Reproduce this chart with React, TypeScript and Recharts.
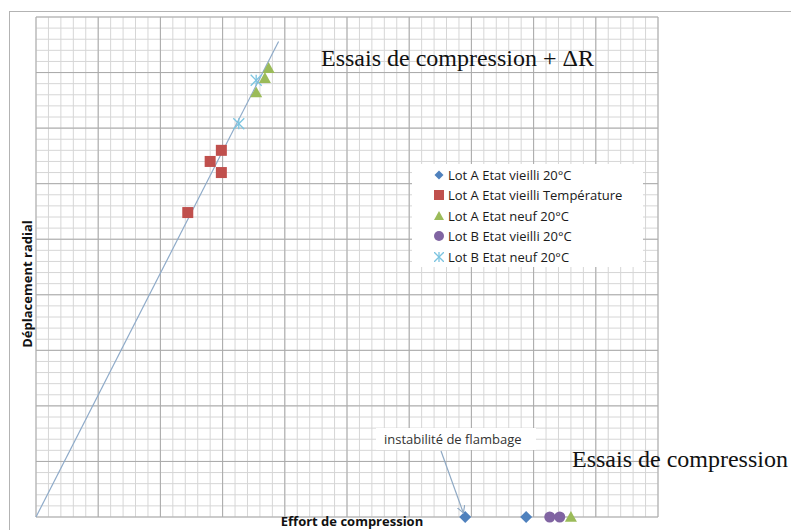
import React from "react"
import { ComposedChart, Scatter, XAxis, YAxis, ReferenceLine } from "recharts"

// grid units: x 0..50 (minor steps), y 0..45
const minorX = Array.from({ length: 51 }, (_, i) => i)
const minorY = Array.from({ length: 46 }, (_, i) => i)
const majorX = [0, 5, 10, 15, 20, 25, 30, 35, 40, 45, 50]
const majorY = [0, 5, 10, 15, 20, 25, 30, 35, 40, 45]

const lotAVieilli20 = [
  { x: 34.5, y: 0 },
  { x: 39.4, y: 0 },
]
const lotAVieilliTemp = [
  { x: 12.2, y: 27.4 },
  { x: 14.0, y: 32.0 },
  { x: 14.9, y: 33.0 },
  { x: 14.9, y: 31.0 },
]
const lotANeuf20 = [
  { x: 18.7, y: 40.4 },
  { x: 18.4, y: 39.5 },
  { x: 17.7, y: 38.2 },
  { x: 43.0, y: 0 },
]
const lotBVieilli20 = [
  { x: 41.3, y: 0 },
  { x: 42.1, y: 0 },
]
const lotBNeuf20 = [
  { x: 17.7, y: 39.3 },
  { x: 16.3, y: 35.4 },
]
const trend = [
  { x: 0, y: 0 },
  { x: 19.5, y: 42.8 },
]

const legendItems = [
  { name: "Lot A Etat vieilli 20°C", shape: "diamond", color: "#4f81bd" },
  { name: "Lot A Etat vieilli Température", shape: "square", color: "#c0504d" },
  { name: "Lot A Etat neuf 20°C", shape: "triangle", color: "#9bbb59" },
  { name: "Lot B Etat vieilli 20°C", shape: "circle", color: "#8064a2" },
  { name: "Lot B Etat neuf 20°C", shape: "star", color: "#7cc4e0" },
]

function Marker({ shape, color, cx, cy, s }: { shape: string; color: string; cx: number; cy: number; s: number }) {
  const h = s / 2
  if (shape === "diamond")
    return <polygon points={`${cx},${cy - h} ${cx + h},${cy} ${cx},${cy + h} ${cx - h},${cy}`} fill={color} />
  if (shape === "square") return <rect x={cx - h} y={cy - h} width={s} height={s} fill={color} />
  if (shape === "triangle")
    return <polygon points={`${cx},${cy - h} ${cx + h},${cy + h * 0.8} ${cx - h},${cy + h * 0.8}`} fill={color} />
  if (shape === "circle") return <circle cx={cx} cy={cy} r={h} fill={color} />
  return (
    <g stroke={color} strokeWidth={1.3}>
      <line x1={cx - h} y1={cy - h} x2={cx + h} y2={cy + h} />
      <line x1={cx - h} y1={cy + h} x2={cx + h} y2={cy - h} />
      <line x1={cx} y1={cy - h} x2={cx} y2={cy + h} />
    </g>
  )
}

const shapeFor = (shape: string, color: string, s: number) => (props: any) =>
  <Marker shape={shape} color={color} cx={props.cx} cy={props.cy} s={s} />

export default function App() {
  return (
    <div style={{ position: "relative", width: 791, height: 522, overflow: "hidden" }}>
      <div
        style={{
          position: "absolute",
          left: 1,
          top: 3,
          width: 820,
          height: 560,
          border: "1px solid #b3b3b3",
          boxSizing: "border-box",
        }}
      />
      <div style={{ position: "absolute", left: 0, top: 0 }}>
        <ComposedChart width={791} height={522} margin={{ top: 9, left: 28, right: 141, bottom: 13 }}>
          <XAxis type="number" dataKey="x" domain={[0, 50]} hide />
          <YAxis type="number" dataKey="y" domain={[0, 45]} hide />
          {minorX.map((v) => (
            <ReferenceLine key={`mx${v}`} x={v} stroke="#d6d6d6" strokeWidth={1} />
          ))}
          {minorY.map((v) => (
            <ReferenceLine key={`my${v}`} y={v} stroke="#d6d6d6" strokeWidth={1} />
          ))}
          {majorX.map((v) => (
            <ReferenceLine key={`Mx${v}`} x={v} stroke="#ababab" strokeWidth={1} />
          ))}
          {majorY.map((v) => (
            <ReferenceLine key={`My${v}`} y={v} stroke="#ababab" strokeWidth={1} />
          ))}
          <Scatter
            data={trend}
            line={{ stroke: "#8fabc9", strokeWidth: 1.2 }}
            shape={() => <g />}
            isAnimationActive={false}
          />
          <Scatter data={lotAVieilliTemp} shape={shapeFor("square", "#c0504d", 11)} isAnimationActive={false} />
          <Scatter data={lotBNeuf20} shape={shapeFor("star", "#7cc4e0", 11)} isAnimationActive={false} />
          <Scatter data={lotANeuf20} shape={shapeFor("triangle", "#9bbb59", 12)} isAnimationActive={false} />
          <Scatter data={lotBVieilli20} shape={shapeFor("circle", "#8064a2", 11)} isAnimationActive={false} />
          <Scatter data={lotAVieilli20} shape={shapeFor("diamond", "#4f81bd", 12)} isAnimationActive={false} />
        </ComposedChart>
      </div>

      {/* legend box */}
      <div
        style={{
          position: "absolute",
          left: 404,
          top: 156,
          width: 231,
          height: 103,
          background: "#fff",
          fontFamily: "'Open Sans', sans-serif",
          fontSize: 13,
          color: "#1a1a1a",
        }}
      >
        {legendItems.map((it, i) => (
          <div key={it.name} style={{ position: "absolute", left: 22, top: 2 + i * 20.5, height: 17, display: "flex", alignItems: "center" }}>
            <svg width={10} height={10} style={{ marginRight: 4 }}>
              <Marker shape={it.shape} color={it.color} cx={5} cy={5} s={it.shape === "diamond" ? 9 : 10} />
            </svg>
            <span style={{ whiteSpace: "nowrap" }}>{it.name}</span>
          </div>
        ))}
      </div>

      <svg width={791} height={522} style={{ position: "absolute", left: 0, top: 0, pointerEvents: "none" }}>
        <defs>
          <marker id="arr" markerWidth="8" markerHeight="8" refX="6" refY="4" orient="auto" markerUnits="userSpaceOnUse">
            <path d="M0,0 L7,4 L0,8" fill="none" stroke="#8fa9c4" strokeWidth={1.2} />
          </marker>
        </defs>
        <rect x={368} y={420} width={160} height={22} fill="#fff" />
        <text x={376} y={436} fontFamily="'Open Sans', sans-serif" fontSize={13} fill="#333">
          instabilité de flambage
        </text>
        <line x1={433} y1={443} x2={455} y2={504} stroke="#8fa9c4" strokeWidth={1.2} markerEnd="url(#arr)" />

        <text x={313} y={58} fontFamily="'Liberation Serif', serif" fontSize={24} fill="#111">
          Essais de compression + ΔR
        </text>
        <text x={564} y={459} fontFamily="'Liberation Serif', serif" fontSize={24} fill="#111">
          Essais de compression
        </text>

        <text
          x={344}
          y={518}
          textAnchor="middle"
          fontFamily="'Open Sans', sans-serif"
          fontWeight="bold"
          fontSize={13}
          fill="#111"
        >
          Effort de compression
        </text>
        <text
          x={24}
          y={276}
          textAnchor="middle"
          transform="rotate(-90 24 276)"
          fontFamily="'Open Sans', sans-serif"
          fontWeight="bold"
          fontSize={13}
          fill="#111"
        >
          Déplacement radial
        </text>
      </svg>
    </div>
  )
}
